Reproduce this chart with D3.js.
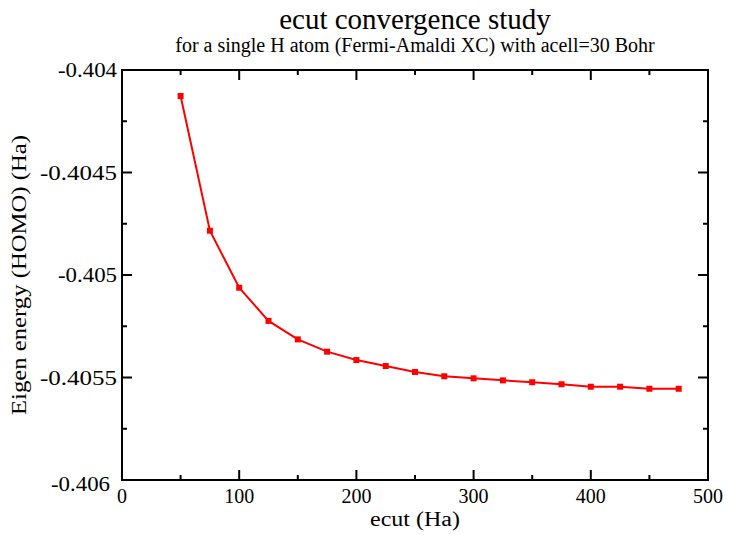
<!DOCTYPE html>
<html>
<head>
<meta charset="utf-8">
<script src="https://cdnjs.cloudflare.com/ajax/libs/d3/7.8.5/d3.min.js"></script>
<style>
  body { margin: 0; background: #fff; }
  svg text { font-family: "Liberation Serif", "DejaVu Serif", serif; fill: #000; }
</style>
</head>
<body>
<div id="chart"></div>
<script>
// ecut values (Ha)
const ecut = [50, 75, 100, 125, 150, 175, 200, 225, 250, 275, 300, 325, 350, 375, 400, 425, 450, 475];
// HOMO eigen energy (Ha)
const homo = [-0.404127, -0.404784, -0.405062, -0.405224, -0.405314, -0.405374, -0.405415,
              -0.405444, -0.405473, -0.405494, -0.405504, -0.405514, -0.405523, -0.405533,
              -0.405545, -0.405545, -0.405555, -0.405555];
const xTicks = [0, 100, 200, 300, 400, 500];
const yTicks = [-0.404, -0.4045, -0.405, -0.4055, -0.406];
const yTickLabels = ["-0.404", "-0.4045", "-0.405", "-0.4055", "-0.406"];

const width = 735, height = 535;
const margin = {top: 70, right: 27, bottom: 55, left: 122};

const svg = d3.select('#chart').append('svg')
    .attr('width', width)
    .attr('height', height);

const x = d3.scaleLinear().domain([0, 500]).range([margin.left, width - margin.right]);
const y = d3.scaleLinear().domain([-0.406, -0.404]).range([height - margin.bottom, margin.top]);

const x0 = x.range()[0], x1 = x.range()[1], y0 = y.range()[0], y1 = y.range()[1];

// ticks (inward, mirrored on all sides)
const majorLen = 10, minorLen = 5;
const xMinor = d3.range(50, 500, 100);
const yMinor = [-0.40425, -0.40475, -0.40525, -0.40575];

const tickG = svg.append('g').attr('stroke', '#000').attr('stroke-width', 2);
xTicks.forEach(v => {
    tickG.append('line').attr('x1', x(v)).attr('x2', x(v)).attr('y1', y0).attr('y2', y0 - majorLen);
    tickG.append('line').attr('x1', x(v)).attr('x2', x(v)).attr('y1', y1).attr('y2', y1 + majorLen);
});
xMinor.forEach(v => {
    tickG.append('line').attr('x1', x(v)).attr('x2', x(v)).attr('y1', y0).attr('y2', y0 - minorLen);
    tickG.append('line').attr('x1', x(v)).attr('x2', x(v)).attr('y1', y1).attr('y2', y1 + minorLen);
});
yTicks.forEach(v => {
    tickG.append('line').attr('x1', x0).attr('x2', x0 + majorLen).attr('y1', y(v)).attr('y2', y(v));
    tickG.append('line').attr('x1', x1).attr('x2', x1 - majorLen).attr('y1', y(v)).attr('y2', y(v));
});
yMinor.forEach(v => {
    tickG.append('line').attr('x1', x0).attr('x2', x0 + minorLen).attr('y1', y(v)).attr('y2', y(v));
    tickG.append('line').attr('x1', x1).attr('x2', x1 - minorLen).attr('y1', y(v)).attr('y2', y(v));
});

// frame
svg.append('rect')
    .attr('x', x0).attr('y', y1)
    .attr('width', x1 - x0).attr('height', y0 - y1)
    .attr('fill', 'none').attr('stroke', '#000').attr('stroke-width', 2);

// tick labels
svg.append('g').selectAll('text')
    .data(xTicks).enter()
    .append('text')
    .attr('x', d => x(d))
    .attr('y', y0 + 23)
    .attr('text-anchor', 'middle')
    .attr('font-size', 20)
    .text(d => d);

const last = yTicks.length - 1;
svg.append('g').selectAll('text')
    .data(yTicks).enter()
    .append('text')
    .attr('x', (d, i) => i == last ? x0 - 12 : x0 - 5)
    .attr('y', (d, i) => y(d) + (i == last ? 11 : 7))
    .attr('text-anchor', 'end')
    .attr('font-size', 21)
    .attr('textLength', (d, i) => yTickLabels[i].length > 6 ? 77 : 59)
    .attr('lengthAdjust', 'spacingAndGlyphs')
    .text((d, i) => yTickLabels[i]);

// axis labels
svg.append('text')
    .attr('x', (x0 + x1) / 2)
    .attr('y', y0 + 46)
    .attr('text-anchor', 'middle')
    .attr('font-size', 20)
    .attr('textLength', 90)
    .attr('lengthAdjust', 'spacingAndGlyphs')
    .text('ecut (Ha)');

svg.append('text')
    .attr('transform', 'translate(26,' + ((y0 + y1) / 2) + ') rotate(-90)')
    .attr('text-anchor', 'middle')
    .attr('font-size', 20)
    .attr('textLength', 280)
    .attr('lengthAdjust', 'spacingAndGlyphs')
    .text('Eigen energy (HOMO) (Ha)');

// titles
svg.append('text')
    .attr('x', (x0 + x1) / 2)
    .attr('y', 29)
    .attr('text-anchor', 'middle')
    .attr('font-size', 29)
    .text('ecut convergence study');

svg.append('text')
    .attr('x', (x0 + x1) / 2)
    .attr('y', 52)
    .attr('text-anchor', 'middle')
    .attr('font-size', 20)
    .text('for a single H atom (Fermi-Amaldi XC) with acell=30 Bohr');

// series
const data = ecut.map((e, i) => ({e: e, v: homo[i]}));
const line = d3.line().x(d => x(d.e)).y(d => y(d.v));

svg.append('path')
    .datum(data)
    .attr('d', line)
    .attr('fill', 'none')
    .attr('stroke', '#ff0000')
    .attr('stroke-width', 2);

const s = 6;
svg.append('g').selectAll('rect')
    .data(data).enter()
    .append('rect')
    .attr('x', d => x(d.e) - s / 2)
    .attr('y', d => y(d.v) - s / 2)
    .attr('width', s)
    .attr('height', s)
    .attr('fill', '#ff0000');
</script>
</body>
</html>
